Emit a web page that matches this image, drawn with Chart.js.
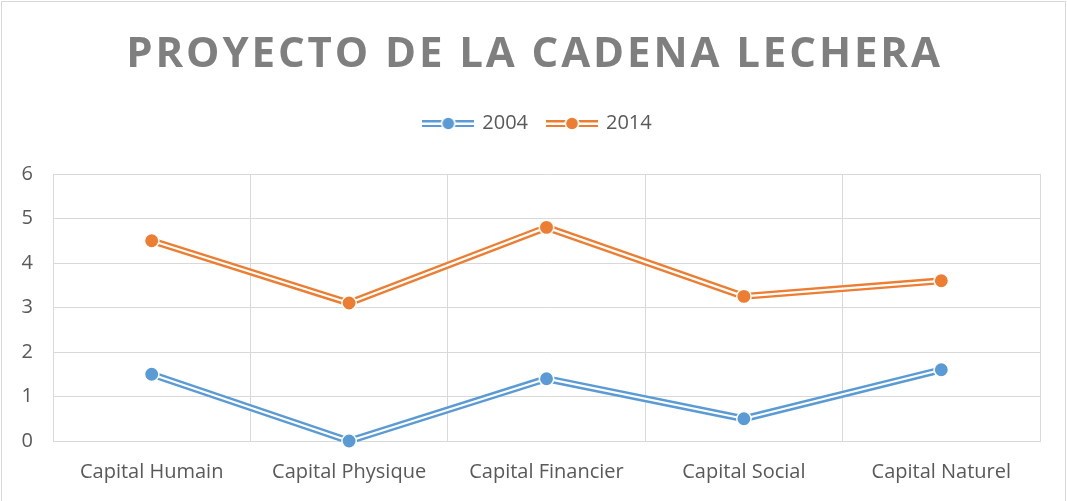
<!DOCTYPE html>
<html>
<head>
<meta charset="utf-8">
<script src="https://cdn.jsdelivr.net/npm/chart.js@4.4.1/dist/chart.umd.min.js"></script>
<style>
    html, body { margin: 0; padding: 0; background: #fff; }
    #wrap { width: 1067px; height: 501px; position: relative; }
</style>
</head>
<body>
<div id="wrap"><canvas id="chart"></canvas></div>
<script>
const chartTitle = 'PROYECTO DE LA CADENA LECHERA';
const categories = ['Capital Humain', 'Capital Physique', 'Capital Financier', 'Capital Social', 'Capital Naturel'];
const seriesNames = ['2004', '2014'];
const values2004 = [1.5, 0, 1.4, 0.5, 1.6];
const values2014 = [4.5, 3.1, 4.8, 3.25, 3.6];
const seriesColors = ['#5b9bd5', '#ed7d31'];
const yMin = 0;
const yMax = 6;
const yStep = 1;

Chart.defaults.font.family = '"Open Sans", sans-serif';
Chart.defaults.color = '#595959';

// legend icon: double line with a dot, like the Excel legend
function makeLegendIcon(color) {
    const c = document.createElement('canvas');
    c.width = 52;
    c.height = 16;
    const ctx = c.getContext('2d');
    ctx.fillStyle = color;
    ctx.fillRect(0, 5, 52, 7);
    ctx.fillStyle = '#fff';
    ctx.fillRect(0, 7.5, 52, 2.5);
    ctx.beginPath();
    ctx.arc(26, 8.5, 7.5, 0, Math.PI * 2);
    ctx.fill();
    ctx.fillStyle = color;
    ctx.beginPath();
    ctx.arc(26, 8.5, 5.8, 0, Math.PI * 2);
    ctx.fill();
    return c;
}

// 3 datasets per series: thick coloured line, thin white line inside it, then the markers
// (lower "order" is drawn on top)
function buildDatasets(name, values, color, base) {
    return [
        {
            label: name,
            data: values,
            order: base + 3,
            borderColor: color,
            backgroundColor: color,
            borderWidth: 7,
            pointRadius: 0,
            pointStyle: makeLegendIcon(color),
            borderJoinStyle: 'round',
            clip: false
        },
        {
            label: '_inner',
            data: values,
            order: base + 2,
            borderColor: '#fff',
            borderWidth: 2.2,
            pointRadius: 0,
            borderJoinStyle: 'round',
            clip: false
        },
        {
            label: '_points',
            data: values,
            order: base + 1,
            showLine: false,
            pointRadius: 7.2,
            pointBackgroundColor: color,
            pointBorderColor: '#fff',
            pointBorderWidth: 1.5,
            clip: false
        }
    ];
}

const frameAndTitle = {
    id: 'frameAndTitle',
    afterLayout(chart) {
        // the Excel legend sits a bit right of the canvas centre
        if (chart.legend) {
            chart.legend.left += 18;
            chart.legend.right += 18;
        }
    },
    beforeDraw(chart) {
        const ctx = chart.ctx;
        ctx.save();
        ctx.fillStyle = '#fff';
        ctx.fillRect(0, 0, chart.width, chart.height);
        ctx.strokeStyle = '#d9d9d9';
        ctx.lineWidth = 1;
        ctx.strokeRect(1.5, 1.5, chart.width - 3, chart.height + 10);
        ctx.restore();
    },
    afterDraw(chart) {
        const ctx = chart.ctx;
        ctx.save();
        ctx.font = 'bold 42px "Open Sans", sans-serif';
        ctx.fillStyle = '#7f7f7f';
        ctx.letterSpacing = '2.9px';
        ctx.textAlign = 'center';
        ctx.textBaseline = 'alphabetic';
        ctx.fillText(chartTitle, 533 + 1.5, 67);
        ctx.restore();
    }
};

const chart = new Chart(document.getElementById('chart'), {
    type: 'line',
    data: {
        labels: categories,
        datasets: [
            ...buildDatasets(seriesNames[0], values2004, seriesColors[0], 3),
            ...buildDatasets(seriesNames[1], values2014, seriesColors[1], 0)
        ]
    },
    options: {
        responsive: true,
        maintainAspectRatio: false,
        animation: false,
        layout: {
            padding: { top: 93, left: 0, right: 27, bottom: 0 }
        },
        plugins: {
            title: { display: false },
            tooltip: { enabled: false },
            legend: {
                position: 'top',
                labels: {
                    usePointStyle: true,
                    pointStyleWidth: 48,
                    padding: 20,
                    color: '#595959',
                    font: { size: 20 },
                    filter: item => !item.text.startsWith('_'),
                    sort: (a, b) => a.datasetIndex - b.datasetIndex
                }
            }
        },
        scales: {
            x: {
                offset: true,
                grid: {
                    offset: true,
                    color: '#d9d9d9',
                    drawTicks: false
                },
                border: { color: '#d9d9d9' },
                ticks: {
                    padding: 19,
                    color: '#595959',
                    font: { size: 20 },
                    maxRotation: 0
                },
                afterFit(scale) {
                    scale.height = 60;
                }
            },
            // empty top axis, only used as a spacer between legend and plot
            gap: {
                type: 'category',
                position: 'top',
                grid: { display: false },
                border: { display: false },
                ticks: { display: false },
                afterFit(scale) {
                    scale.height = 31;
                }
            },
            y: {
                min: yMin,
                max: yMax,
                grid: {
                    color: '#d9d9d9',
                    drawTicks: false
                },
                border: { display: false },
                ticks: {
                    stepSize: yStep,
                    padding: 20,
                    color: '#595959',
                    font: { size: 20 }
                },
                afterFit(scale) {
                    scale.width = 53;
                }
            }
        }
    },
    plugins: [frameAndTitle]
});
</script>
</body>
</html>
